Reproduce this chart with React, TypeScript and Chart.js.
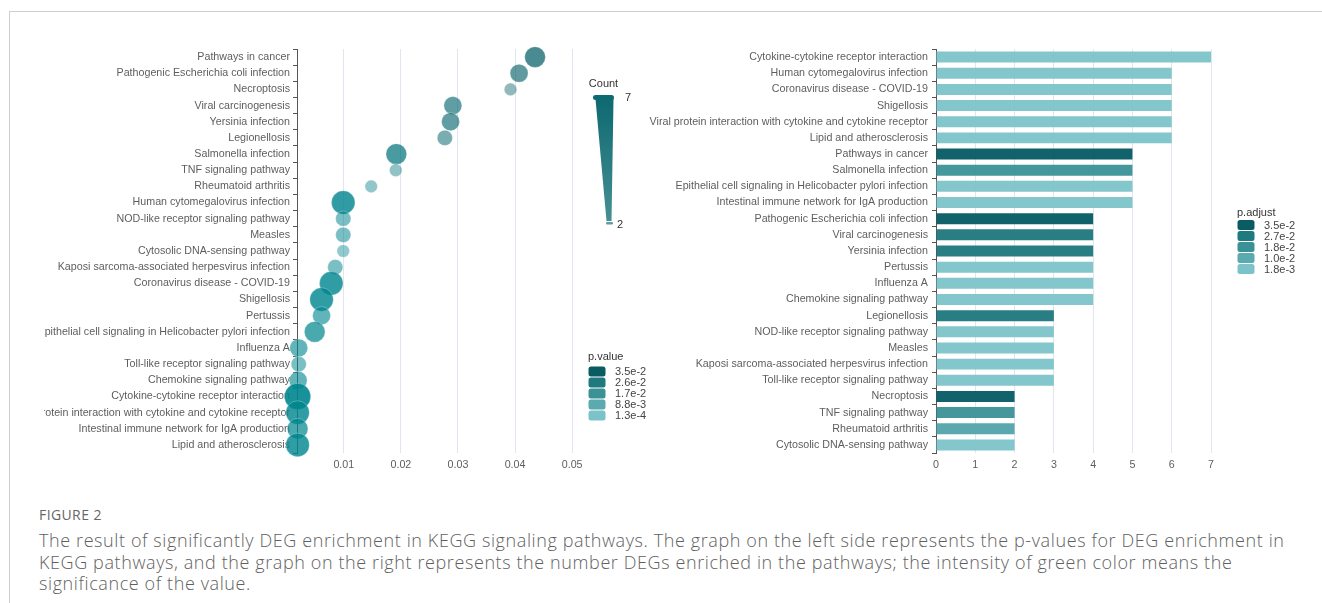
import React, { useEffect, useRef } from "react";
import { Chart, registerables } from "chart.js";

Chart.register(...registerables);

// KEGG pathways, ordered by p-value (largest first)
const pathways = [
  "Pathways in cancer",
  "Pathogenic Escherichia coli infection",
  "Necroptosis",
  "Viral carcinogenesis",
  "Yersinia infection",
  "Legionellosis",
  "Salmonella infection",
  "TNF signaling pathway",
  "Rheumatoid arthritis",
  "Human cytomegalovirus infection",
  "NOD-like receptor signaling pathway",
  "Measles",
  "Cytosolic DNA-sensing pathway",
  "Kaposi sarcoma-associated herpesvirus infection",
  "Coronavirus disease - COVID-19",
  "Shigellosis",
  "Pertussis",
  "Epithelial cell signaling in Helicobacter pylori infection",
  "Influenza A",
  "Toll-like receptor signaling pathway",
  "Chemokine signaling pathway",
  "Cytokine-cytokine receptor interaction",
  "Viral protein interaction with cytokine and cytokine receptor",
  "Intestinal immune network for IgA production",
  "Lipid and atherosclerosis",
];

const pValues = [
  0.0435, 0.0407, 0.0392, 0.0291, 0.0287, 0.0277, 0.0192, 0.0191, 0.0148,
  0.0099, 0.0099, 0.0099, 0.0099, 0.0085, 0.0078, 0.0061, 0.0061, 0.0049,
  0.0021, 0.0021, 0.002, 0.0019, 0.0019, 0.0019, 0.0019,
];

const geneCounts = [
  5, 4, 2, 4, 4, 3, 5, 2, 2, 6, 3, 3, 2, 3, 6, 6, 4, 5, 4, 3, 4, 7, 6, 5, 6,
];

const pAdjust = [
  0.035, 0.035, 0.035, 0.027, 0.027, 0.027, 0.018, 0.018, 0.012, 0.0018,
  0.0018, 0.0018, 0.0018, 0.0018, 0.0018, 0.0018, 0.0018, 0.0018, 0.0018,
  0.0018, 0.0018, 0.0018, 0.0018, 0.0018, 0.0018,
];

const pValueTicks = [0.01, 0.02, 0.03, 0.04, 0.05];
const countTicks = [0, 1, 2, 3, 4, 5, 6, 7];
const countLegendTicks = ["7", "2"];
const pValueLegendLabels = ["3.5e-2", "2.6e-2", "1.7e-2", "8.8e-3", "1.3e-4"];
const pAdjustLegendLabels = ["3.5e-2", "2.7e-2", "1.8e-2", "1.0e-2", "1.8e-3"];

// ---- styling ----
const FONT = '"Liberation Sans", Arial, Helvetica, sans-serif';
const LABEL_COLOR = "#5e5e5e";
const LABEL_SIZE = 10.7;
const GRID_COLOR = "#e0e5ef";
const SWATCHES = ["#0b5c62", "#1f7a80", "#3a9196", "#5aaab0", "#7cc3c9"];

const PAGE_W = 1322;
const PAGE_H = 603;
const CANVAS_TOP = 12;
const CANVAS_H = 470;
const LEFT_X = 44;
const LEFT_W = 620;
const RIGHT_X = 640;
const RIGHT_W = 682;

type Rgb = [number, number, number];

function hexToRgb(hex: string): Rgb {
  const n = parseInt(hex.slice(1), 16);
  return [(n >> 16) & 255, (n >> 8) & 255, n & 255];
}

function interpolate(stops: [number, string][], v: number): Rgb {
  if (v <= stops[0][0]) return hexToRgb(stops[0][1]);
  const last = stops[stops.length - 1];
  if (v >= last[0]) return hexToRgb(last[1]);
  for (let i = 0; i < stops.length - 1; i++) {
    const [a, ca] = stops[i];
    const [b, cb] = stops[i + 1];
    if (v >= a && v <= b) {
      const t = (v - a) / (b - a);
      const x = hexToRgb(ca);
      const y = hexToRgb(cb);
      return [0, 1, 2].map((k) => Math.round(x[k] + (y[k] - x[k]) * t)) as Rgb;
    }
  }
  return hexToRgb(last[1]);
}

// bubble hue follows the p-value, opacity and radius follow the gene count
const bubbleStops: [number, string][] = [
  [0.0088, "#00868f"],
  [0.017, "#00767f"],
  [0.026, "#00656d"],
  [0.035, "#005c63"],
];
const bubbleColor = (p: number, n: number) => {
  const [r, g, b] = interpolate(bubbleStops, p);
  const a = 0.24 + 0.095 * n;
  return `rgba(${r},${g},${b},${a.toFixed(3)})`;
};
const bubbleRadius = (n: number) => 6.3 + 1.365 * (n - 2);

const barStops: [number, string][] = [
  [0.0018, "#7cc3c9"],
  [0.01, "#5aaab0"],
  [0.018, "#3a9196"],
  [0.027, "#1e777d"],
  [0.035, "#045a62"],
];
const barColor = (q: number) => {
  const [r, g, b] = interpolate(barStops, q);
  return `rgba(${r},${g},${b},0.95)`;
};

function drawSwatchLegend(
  ctx: CanvasRenderingContext2D,
  ox: number,
  oy: number,
  title: string,
  labels: string[],
  x: number,
  titleY: number,
  firstRowY: number
) {
  ctx.save();
  ctx.translate(-ox, -oy);
  ctx.font = `11px ${FONT}`;
  ctx.textBaseline = "middle";
  ctx.textAlign = "left";
  ctx.fillStyle = "#333";
  ctx.fillText(title, x, titleY);
  labels.forEach((lab, i) => {
    const cy = firstRowY + i * 11;
    ctx.fillStyle = SWATCHES[i];
    ctx.beginPath();
    (ctx as any).roundRect(x + 0.5, cy - 5, 17, 10, 2.5);
    ctx.fill();
    ctx.fillStyle = "#444";
    ctx.fillText(lab, x + 27, cy + 0.5);
  });
  ctx.restore();
}

const leftLegends = {
  id: "leftLegends",
  afterDraw(chart: Chart) {
    const ctx = chart.ctx;
    const ox = LEFT_X;
    const oy = CANVAS_TOP;
    ctx.save();
    ctx.translate(-ox, -oy);
    // Count legend: tapering wedge from the largest to the smallest count
    ctx.font = `11px ${FONT}`;
    ctx.fillStyle = "#333";
    ctx.textBaseline = "middle";
    ctx.textAlign = "center";
    ctx.fillText("Count", 603.5, 83.5);
    const grad = ctx.createLinearGradient(0, 97, 0, 222);
    grad.addColorStop(0, "#0d6970");
    grad.addColorStop(1, "#468f94");
    ctx.fillStyle = grad;
    ctx.beginPath();
    ctx.moveTo(595.5, 99);
    ctx.lineTo(613.5, 99);
    ctx.lineTo(611.5, 221);
    ctx.lineTo(606.5, 221);
    ctx.closePath();
    ctx.fill();
    ctx.fillStyle = "#0e6a71";
    ctx.beginPath();
    (ctx as any).roundRect(593, 95, 21, 5, 2.5);
    ctx.fill();
    ctx.fillStyle = "#5c9fa4";
    ctx.beginPath();
    (ctx as any).roundRect(606, 222, 7, 2.5, 1.2);
    ctx.fill();
    ctx.fillStyle = "#333";
    ctx.textAlign = "left";
    ctx.fillText(countLegendTicks[0], 625, 98);
    ctx.fillText(countLegendTicks[1], 617, 224.5);
    ctx.restore();
    drawSwatchLegend(ctx, ox, oy, "p.value", pValueLegendLabels, 588, 357, 371.5);
  },
};

const rightLegend = {
  id: "rightLegend",
  afterDraw(chart: Chart) {
    drawSwatchLegend(
      chart.ctx,
      RIGHT_X,
      CANVAS_TOP,
      "p.adjust",
      pAdjustLegendLabels,
      1237,
      213,
      225
    );
  },
};

function DotPlot() {
  const ref = useRef<HTMLCanvasElement | null>(null);
  useEffect(() => {
    if (!ref.current) return;
    const chart = new Chart(ref.current, {
      type: "bubble",
      data: {
        datasets: [
          {
            data: pathways.map((name, i) => ({
              x: pValues[i],
              y: name as any,
              r: bubbleRadius(geneCounts[i]),
            })),
            backgroundColor: pathways.map((_, i) =>
              bubbleColor(pValues[i], geneCounts[i])
            ),
            borderColor: "rgba(255,255,255,0.35)",
            borderWidth: 0.8,
            clip: false as any,
          },
        ],
      },
      options: {
        animation: false,
        responsive: false,
        maintainAspectRatio: false,
        events: [],
        layout: { padding: { top: 37, right: 81, left: 0, bottom: 0 } },
        plugins: { legend: { display: false }, tooltip: { enabled: false } },
        scales: {
          x: {
            type: "linear",
            min: 0.0018,
            max: 0.0519,
            afterBuildTicks: (s: any) => {
              s.ticks = pValueTicks.map((v) => ({ value: v }));
            },
            afterFit: (s: any) => {
              s.height = 29;
            },
            ticks: {
              padding: 6,
              color: LABEL_COLOR,
              font: { family: FONT, size: LABEL_SIZE },
              callback: (v: any) => Number(v).toFixed(2),
            },
            grid: { color: GRID_COLOR, drawTicks: false, lineWidth: 1 },
            border: { display: false },
          },
          y: {
            type: "category",
            labels: pathways,
            offset: true,
            afterFit: (s: any) => {
              s.width = 253;
            },
            ticks: {
              autoSkip: false,
              padding: 3,
              color: LABEL_COLOR,
              font: { family: FONT, size: LABEL_SIZE },
            },
            grid: {
              offset: true,
              drawOnChartArea: false,
              drawTicks: true,
              tickLength: 4,
              color: "#555",
            },
            border: { display: true, color: "#555", width: 1 },
          },
        },
      },
      plugins: [leftLegends],
    });
    return () => chart.destroy();
  }, []);
  return (
    <canvas
      ref={ref}
      width={LEFT_W}
      height={CANVAS_H}
      style={{
        position: "absolute",
        left: LEFT_X,
        top: CANVAS_TOP,
        width: LEFT_W,
        height: CANVAS_H,
      }}
    />
  );
}

function CountBars() {
  const ref = useRef<HTMLCanvasElement | null>(null);
  useEffect(() => {
    if (!ref.current) return;
    // bars sorted by gene count; ties keep the p-value order
    const order = pathways
      .map((_, i) => i)
      .sort((a, b) => geneCounts[b] - geneCounts[a]);
    const chart = new Chart(ref.current, {
      type: "bar",
      data: {
        labels: order.map((i) => pathways[i]),
        datasets: [
          {
            data: order.map((i) => geneCounts[i]),
            backgroundColor: order.map((i) => barColor(pAdjust[i])),
            borderWidth: 0,
            categoryPercentage: 1,
            barPercentage: 0.68,
          },
        ],
      },
      options: {
        indexAxis: "y",
        animation: false,
        responsive: false,
        maintainAspectRatio: false,
        events: [],
        layout: { padding: { top: 37, right: 111, left: 0, bottom: 0 } },
        plugins: { legend: { display: false }, tooltip: { enabled: false } },
        scales: {
          x: {
            type: "linear",
            min: 0,
            max: 7,
            afterBuildTicks: (s: any) => {
              s.ticks = countTicks.map((v) => ({ value: v }));
            },
            afterFit: (s: any) => {
              s.height = 29;
            },
            ticks: {
              padding: 6,
              color: LABEL_COLOR,
              font: { family: FONT, size: LABEL_SIZE },
            },
            grid: { color: GRID_COLOR, drawTicks: false, lineWidth: 1 },
            border: { display: false },
          },
          y: {
            type: "category",
            offset: true,
            afterFit: (s: any) => {
              s.width = 296;
            },
            ticks: {
              autoSkip: false,
              padding: 4,
              color: LABEL_COLOR,
              font: { family: FONT, size: LABEL_SIZE },
            },
            grid: {
              offset: true,
              drawOnChartArea: false,
              drawTicks: true,
              tickLength: 4,
              color: "#555",
            },
            border: { display: true, color: "#555", width: 1 },
          },
        },
      },
      plugins: [rightLegend],
    });
    return () => chart.destroy();
  }, []);
  return (
    <canvas
      ref={ref}
      width={RIGHT_W}
      height={CANVAS_H}
      style={{
        position: "absolute",
        left: RIGHT_X,
        top: CANVAS_TOP,
        width: RIGHT_W,
        height: CANVAS_H,
      }}
    />
  );
}

export default function App() {
  return (
    <div
      style={{
        position: "absolute",
        left: 0,
        top: 0,
        width: PAGE_W,
        height: PAGE_H,
        overflow: "hidden",
        background: "#fff",
      }}
    >
      <div
        style={{
          position: "absolute",
          left: 9,
          top: 11,
          right: 0,
          bottom: 0,
          borderTop: "1px solid #cfcfcf",
          borderLeft: "1px solid #cfcfcf",
        }}
      />
      <CountBars />
      <DotPlot />
      <div
        style={{
          position: "absolute",
          left: 39,
          top: 505.5,
          width: 1280,
          fontFamily: '"Open Sans", "Noto Sans", sans-serif',
          color: "#5f5f5f",
        }}
      >
        <div
          style={{
            fontSize: 14,
            lineHeight: "17px",
            letterSpacing: 0.4,
            color: "#666",
            whiteSpace: "nowrap",
          }}
        >
          FIGURE 2
        </div>
        <div
          style={{
            marginTop: 7.75,
            fontSize: 18,
            fontWeight: 300,
            letterSpacing: 0.6,
            lineHeight: "21.5px",
            whiteSpace: "nowrap",
          }}
        >
          The result of significantly DEG enrichment in KEGG signaling pathways.
          The graph on the left side represents the p-values for DEG enrichment
          in
          <br />
          KEGG pathways, and the graph on the right represents the number DEGs
          enriched in the pathways; the intensity of green color means the
          <br />
          significance of the value.
        </div>
      </div>
    </div>
  );
}
